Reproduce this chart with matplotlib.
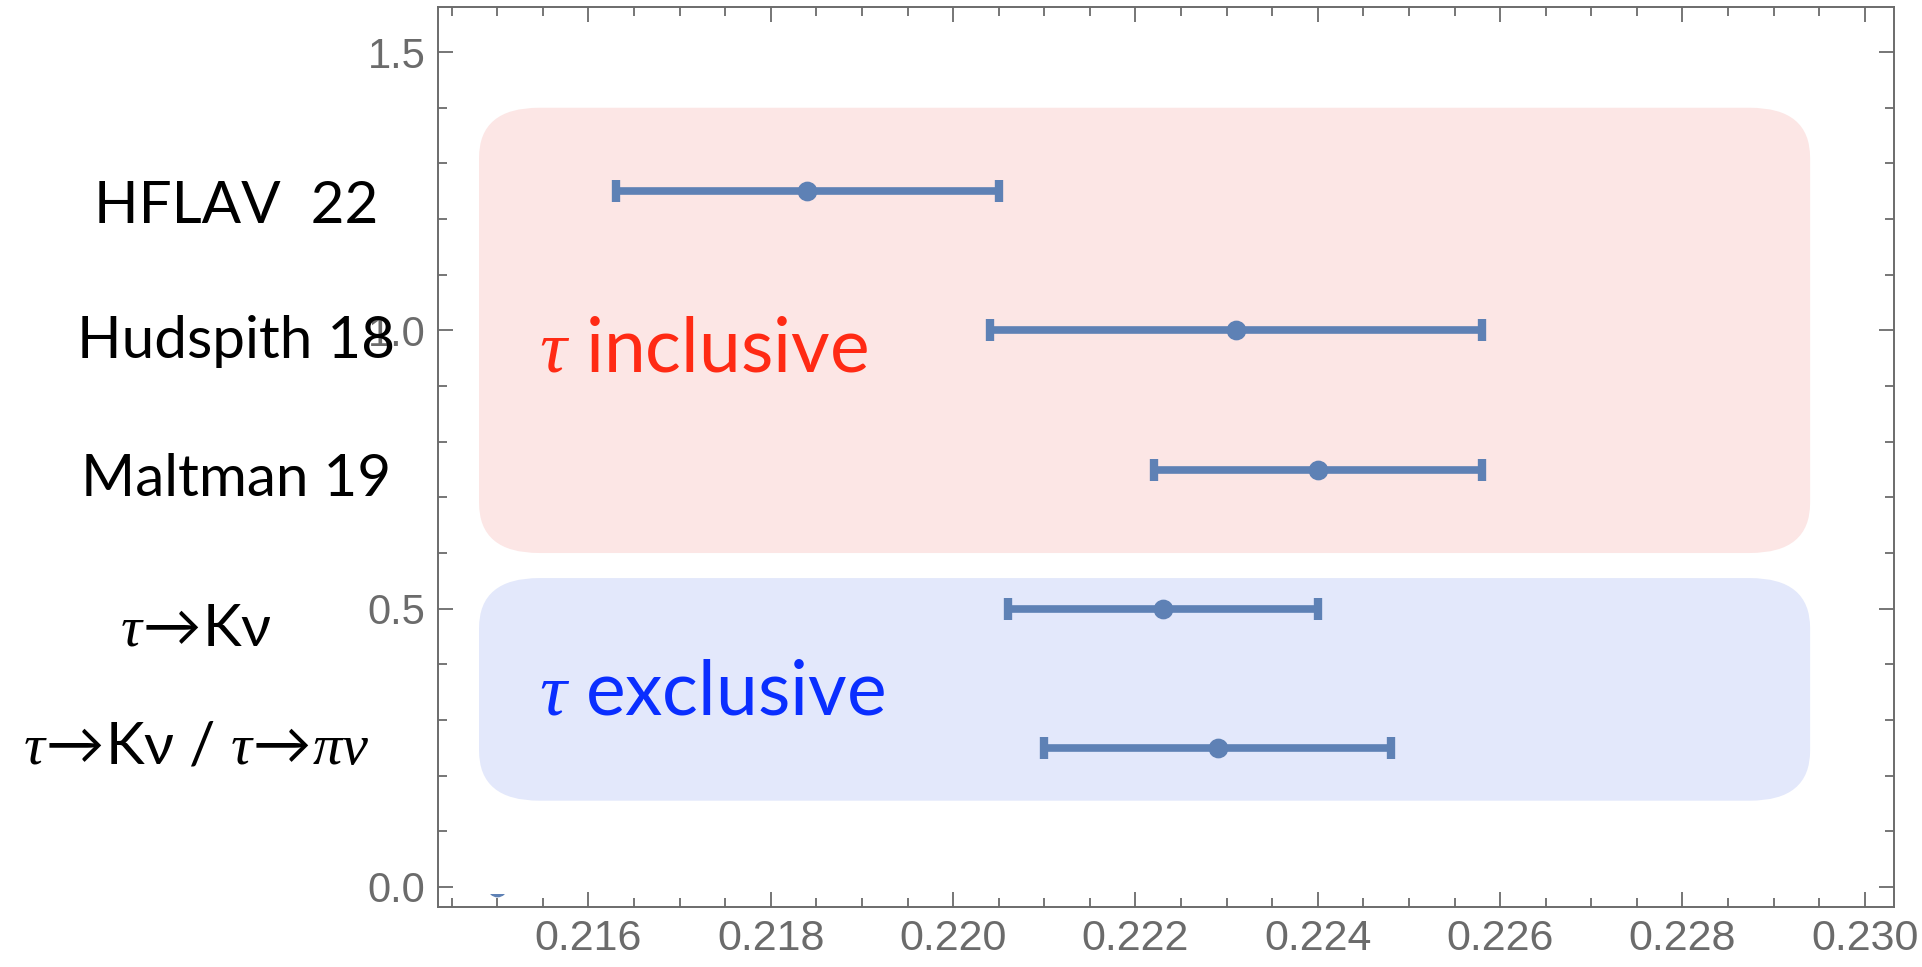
import matplotlib
matplotlib.use("Agg")
import matplotlib.pyplot as plt
from matplotlib.patches import FancyBboxPatch, Rectangle
from matplotlib.ticker import MultipleLocator, FormatStrFormatter

plt.rcParams['mathtext.fontset'] = 'custom'
plt.rcParams['mathtext.rm'] = 'Lato'
plt.rcParams['mathtext.it'] = 'Liberation Serif:italic'
plt.rcParams['mathtext.bf'] = 'Lato:bold'

# --- data -------------------------------------------------------------
labels = ['HFLAV  22', 'Hudspith 18', 'Maltman 19',
          r'$\tau\!{\rightarrow}\!$Kν',
          r'$\tau\!{\rightarrow}\!$Kν / $\tau\!{\rightarrow}\!\pi\nu$']
rows = [1.25, 1.0, 0.75, 0.5, 0.25]
vus = [0.2184, 0.2231, 0.2240, 0.2223, 0.2229]
vus_err = [0.0021, 0.0027, 0.0018, 0.0017, 0.0019]

group_names = [r'$\tau$ inclusive', r'$\tau$ exclusive']
group_x = [0.2148, 0.2294]
group_y = [(0.60, 1.40), (0.155, 0.555)]

xticks = [0.216, 0.218, 0.220, 0.222, 0.224, 0.226, 0.228, 0.230]
yticks = [0.0, 0.5, 1.0, 1.5]

# --- figure -----------------------------------------------------------
W, H, DPI = 1922, 967, 100
fig = plt.figure(figsize=(W / DPI, H / DPI), dpi=DPI)
ax = fig.add_axes([438 / W, 1 - 907 / H, (1894 - 438) / W, (907 - 7) / H])
ax.set_xlim(0.21435, 0.23032)
ax.set_ylim(-0.036, 1.581)

blue = '#5E81B5'
grey = '#6B6B6B'

# shaded group boxes
box_fill = ['#FCE6E5', '#E3E8FB']
rx = 0.00066
for (y0, y1), fc in zip(group_y, box_fill):
    p = FancyBboxPatch((group_x[0], y0), group_x[1] - group_x[0], y1 - y0,
                       boxstyle=f"round,pad=0,rounding_size={rx}",
                       mutation_aspect=0.09 / rx, fc=fc, ec='none', zorder=0)
    ax.add_patch(p)

# group captions
cap_colors = ['#FF2A14', '#0A2EFF']
cap_y = [(887 - 371) / 556.7, (887 - 715) / 556.7]
for name, yy, col in zip(group_names, cap_y, cap_colors):
    ax.text(0.21546, yy, name, color=col, fontsize=54, family='Lato',
            ha='left', va='baseline', zorder=3)

# measurements
ax.errorbar(vus, rows, xerr=vus_err, fmt='o', color=blue, ms=13.2,
            elinewidth=5.5, capsize=7.6, capthick=6, zorder=4)

# reference point sitting on the lower frame edge
ref_pt, = ax.plot([0.215], [0.0], 'o', color=blue, ms=13.2, zorder=4)
clip = Rectangle((0.2, -1.0), 0.1, 1.0 - 0.0126, transform=ax.transData)
ref_pt.set_clip_path(clip)

# row labels to the left of the frame
label_x = [236, 236, 236, 196, 196]
label_base = [223, 358, 496, 645, 763]
for txt, lx, lb in zip(labels, label_x, label_base):
    ax.text(lx / W, 1 - lb / H, txt, transform=fig.transFigure,
            fontsize=42, family='Lato', color='black',
            ha='center', va='baseline', zorder=10, clip_on=False)

# --- axes styling -----------------------------------------------------
ax.set_xticks(xticks)
ax.set_yticks(yticks)
ax.xaxis.set_minor_locator(MultipleLocator(0.0005))
ax.yaxis.set_minor_locator(MultipleLocator(0.1))
ax.xaxis.set_major_formatter(FormatStrFormatter('%.3f'))
ax.yaxis.set_major_formatter(FormatStrFormatter('%.1f'))

ax.tick_params(which='both', direction='in', top=True, right=True,
               color=grey, width=1.3)
ax.tick_params(which='major', length=10.8)
ax.tick_params(which='minor', length=6.2)
ax.tick_params(axis='x', which='major', labelsize=31, labelcolor=grey, pad=9)
ax.tick_params(axis='y', which='major', labelsize=30, labelcolor=grey, pad=9)
for lab in ax.get_xticklabels() + ax.get_yticklabels():
    lab.set_family('Liberation Sans')
for s in ax.spines.values():
    s.set_color(grey)
    s.set_linewidth(1.4)

fig.savefig('out.png', dpi=DPI)
